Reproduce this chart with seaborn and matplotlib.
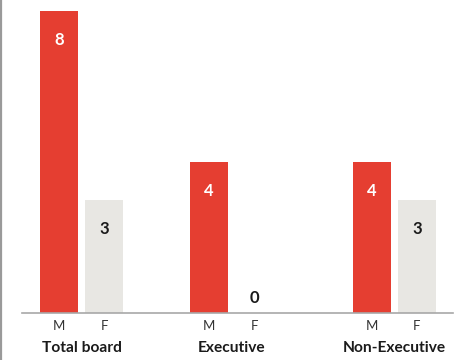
import matplotlib
matplotlib.use("Agg")
import matplotlib.pyplot as plt
import matplotlib.transforms as mtransforms
from matplotlib.lines import Line2D
import seaborn as sns
import pandas as pd

# Board composition by gender
groups = ["Total board", "Executive", "Non-Executive"]
sexes = ["M", "F"]
male_counts = [8, 4, 4]
female_counts = [3, 0, 3]

# Layout: group centres along the axis and offset of each bar in a pair
group_centres = [81.5, 231.5, 394.5]
pair_offset = {"M": -22.5, "F": 22.5}

RED = "#E53E31"
LIGHT = "#E8E7E3"
DARK = "#1b1b1b"

rows = []
for g, c, m, f in zip(groups, group_centres, male_counts, female_counts):
    rows.append({"group": g, "sex": "M", "value": m, "pos": c + pair_offset["M"]})
    rows.append({"group": g, "sex": "F", "value": f, "pos": c + pair_offset["F"]})
df = pd.DataFrame(rows)

sns.set_theme(style="white")
plt.rcParams["font.family"] = ["Lato", "DejaVu Sans"]

fig = plt.figure(figsize=(4.57, 3.60), dpi=100)
ax = fig.add_axes([22 / 457, 47 / 360, 431 / 457, 313 / 360])

sns.barplot(data=df, x="pos", y="value", hue="sex", hue_order=sexes,
            palette={"M": RED, "F": LIGHT}, native_scale=True, dodge=False,
            width=38 / 45, legend=False, saturation=1, ax=ax, linewidth=0)

ax.set_xlim(22, 453)
ax.set_ylim(0, 313 / 37.75)

for s in ["top", "right", "left"]:
    ax.spines[s].set_visible(False)
ax.spines["bottom"].set_color("#a8a8a8")
ax.spines["bottom"].set_linewidth(1.2)
ax.set_yticks([])
ax.set_xlabel("")
ax.set_ylabel("")

ax.set_xticks(df["pos"])
ax.set_xticklabels(df["sex"], fontsize=9.5, color="#333333")
ax.tick_params(axis="x", length=0, pad=5)

# Value labels
for _, r in df.iterrows():
    if r["value"] > 0:
        ax.annotate(f"{r['value']}", (r["pos"], r["value"]), xytext=(0, -21),
                    textcoords="offset points", ha="center", va="center",
                    fontsize=12, fontweight="bold",
                    color="white" if r["sex"] == "M" else DARK)
    else:
        ax.annotate(f"{r['value']}", (r["pos"], r["value"]), xytext=(0, 11),
                    textcoords="offset points", ha="center", va="center",
                    fontsize=12, fontweight="bold", color=DARK)

# Group names under each pair
trans = mtransforms.blended_transform_factory(ax.transData, fig.transFigure)
for g, c in zip(groups, group_centres):
    fig.text(c, 1 - 348 / 360, g, transform=trans, ha="center", va="center",
             fontsize=11.2, fontweight="bold", color=DARK)

# Left edge rule
fig.add_artist(Line2D([1 / 457, 1 / 457], [0, 1], transform=fig.transFigure,
                      color="#9a9a9a", linewidth=1.6))

fig.savefig("out.png", dpi=100)
